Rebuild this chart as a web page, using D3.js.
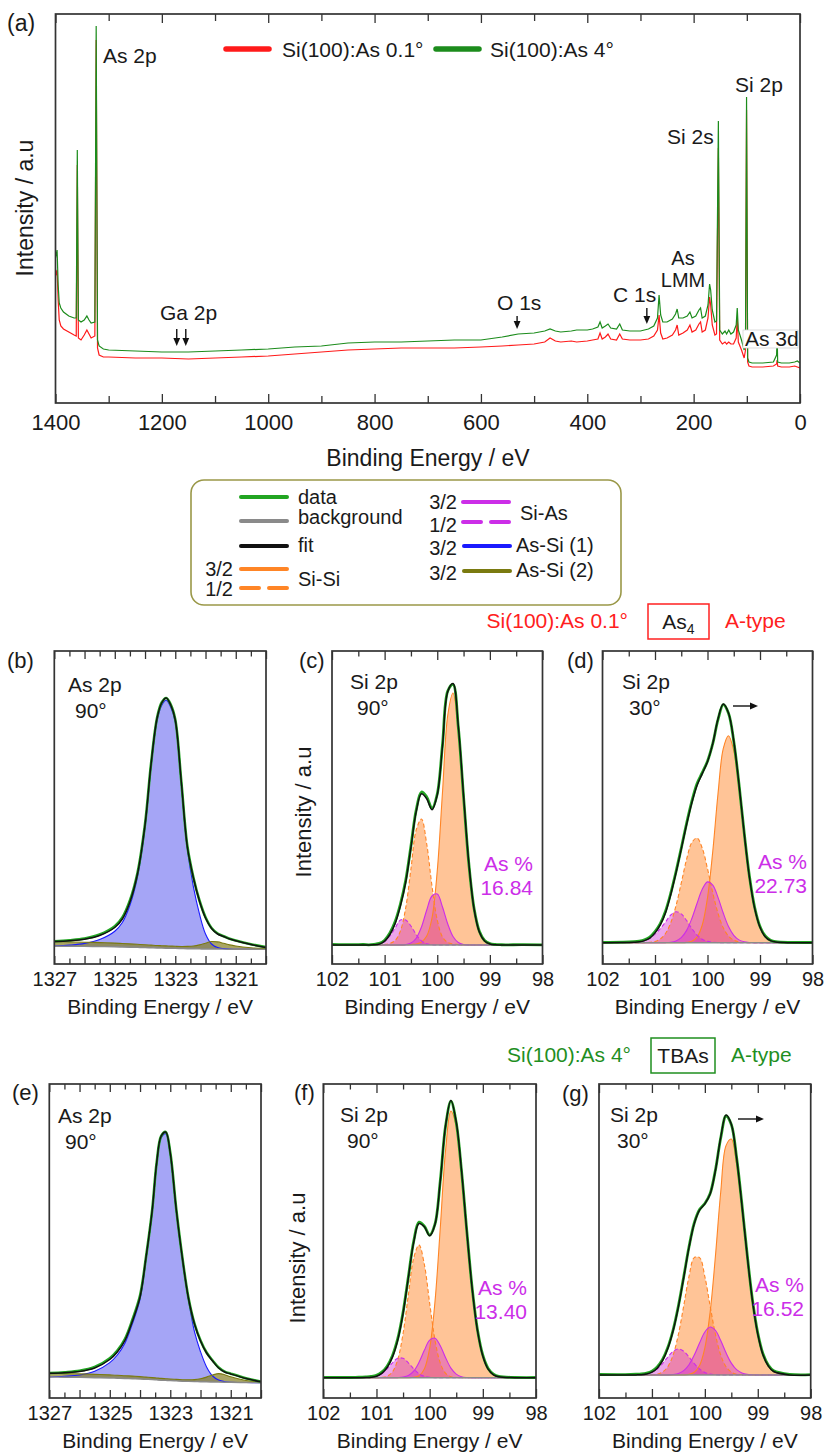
<!DOCTYPE html>
<html>
<head>
<meta charset="utf-8">
<script src="https://cdn.jsdelivr.net/npm/d3@7"></script>
<style>
  body { margin: 0; background: #fff; }
  text { font-family: "Liberation Sans", Arial, Helvetica, sans-serif; fill: #1a1a1a; }
</style>
</head>
<body>
<svg id="fig" width="825" height="1454" xmlns="http://www.w3.org/2000/svg"></svg>
<script>
// ---------- (a) survey spectra, intensity in a.u. ----------
const surveyEnergy = [1400,1397,1395,1393,1390,1385,1375,1365,1361,1359,1357,1352,1346,1341,1337,1333,1326,1323.5,1321,1318,
  1310,1300,1250,1200,1150,1100,1050,1000,950,900,850,800,750,700,650,600,560,530,500,480,
  470,460,450,430,420,400,390,380,376,372,366,361,356,345,339,334,320,300,285,275,
  268,265,262,258,250,240,234,231,228,220,212,207,203,196,190,187,184,178,173,170,
  168,165,160,157,153.5,151,146,141,138,134,130,125,120,118,116,110,105,102.5,100.5,98.5,
  96,90,70,50,44,43,42,35,20,10,5,0];
const surveyAs4 = [145,153,118,100,95,91,87,85,85,253,83,81,83,87,83,80,81,377,63,57,
  54,53,52,51,51,52,53,54,56,57,60,61,61,62,63,63,66,69,70,72,
  74,72,71,72,73,73,74,76,81,75,77,79,75,74,79,73,72,72,74,77,
  85,108,88,81,81,84,89,94,85,85,87,91,85,87,93,95,85,87,98,119,
  113,93,81,82,282,73,69,72,69,73,69,71,78,95,73,63,53,63,306,45,
  41,40,40,41,48,68,41,40,40,41,42,40];
const surveyAs01 = [127,133,103,83,77,74,71,68,67,238,65,63,68,73,69,65,67,363,55,48,
  46,46,45,45,44,45,46,47,49,51,53,54,55,55,55,56,57,58,59,61,
  65,62,61,62,61,62,63,64,70,64,66,69,64,63,69,64,63,63,64,67,
  73,88,70,64,65,68,73,78,68,70,73,78,71,73,79,81,71,73,85,106,
  98,78,68,69,255,63,59,61,59,61,59,59,65,85,61,53,45,53,293,41,
  37,36,36,37,39,43,37,36,36,37,36,35];
const surveyTicks = [1400,1200,1000,800,600,400,200,0];
const surveyMinor = [1300,1100,900,700,500,300,100];

// ---------- Si 2p fits ----------
const siEnergy = [102.0,101.6,101.4,101.3,101.2,101.1,101.0,100.9,100.8,100.7,100.6,100.5,100.4,100.3,100.2,100.1,
  100.0,99.9,99.8,99.7,99.6,99.5,99.4,99.3,99.2,99.1,99.0,98.9,98.8,98.7,98.4,98.0];
const siTicks = [102,101,100,99,98];
const siMinor = [101.5,100.5,99.5,98.5];

// (c) Si(100):As 0.1°, 90°
const cSiSi32 = [0,0,0,0,0,0,0,0,0,0,0.2,0.5,1,3,9,27,74,153,230,252,216,149,82,36,13,4,1,0.2,0,0,0,0];
const cSiSi12 = [0,0,0,0,0,0,0.5,1.5,4.5,14,37,76,115,126,101,59,25,8,2.5,1,0.5,0,0,0,0,0,0,0,0,0,0,0];
const cSiAs32 = [0,0,0,0,0,0,0,0,0,0.1,0.4,1.9,6.8,18,35,49,51,38,21,8.5,2.5,0.5,0.1,0,0,0,0,0,0,0,0,0];
const cSiAs12 = [0,0,0,0,0.2,0.9,3.4,9,17,25,25,19,10.5,4.2,1.2,0.3,0,0,0,0,0,0,0,0,0,0,0,0,0,0,0,0];
const cFit = [0,0,0,0,0.2,0.9,3.9,10.5,21.5,39.1,62.6,97.4,133.3,151.2,146.2,135.3,150,199,253.5,261.5,219,149.5,82.1,36,13,4,1,0.2,0,0,0,0];
const cData = [0.6,0.3,0.5,0.2,0.7,1.6,4.8,12,23.5,41,64.5,99,135,153,148,136.5,151,200.5,254,260.5,218,148.5,81.5,36.5,13.8,4.6,1.5,0.6,0.3,0.1,0.4,0.2];

// (d) Si(100):As 0.1°, 30°
const dSiSi32 = [0,0,0,0,0,0,0,0,0,0,0,0,0.3,1.4,5.6,17.7,44.9,91.2,148.9,194,207,192,155,108,65,34,15.5,6,2,0.6,0,0];
const dSiSi12 = [0,0,0,0,0.1,0.4,1.3,3.8,9.2,20,37,59.6,83,100,104.7,94.6,74,50,29.4,14.9,6.6,2.5,0.8,0.2,0,0,0,0,0,0,0,0];
const dSiAs32 = [0,0,0,0,0,0,0,0,0.1,0.5,1.8,5.1,12.1,23.9,39.2,53.4,60.8,57.5,45.3,29.7,16.2,7.4,2.8,0.9,0.2,0,0,0,0,0,0,0];
const dSiAs12 = [0,0.1,0.5,0.9,2,4.2,8.5,14,20.7,27.7,31,28.8,22.3,14.3,7.7,3.4,1.3,0.4,0.1,0,0,0,0,0,0,0,0,0,0,0,0,0];
const dFit = [0,0.1,0.5,0.9,2.1,4.6,9.8,17.8,30,48.2,69.8,93.5,117.7,139.6,157.2,169.1,181,199.1,223.7,238.6,229.8,201.9,158.6,109.1,65.2,34,15.5,6,2,0.6,0,0];
const dData = [0.4,0.5,1.0,1.6,2.9,5.5,11,19,31.5,49.5,71,94.5,119,141,159,170,181.5,199,223,238,229.5,201.5,158.5,109.5,66,35,16.2,6.7,2.5,1.0,0.3,0.2];

// (f) Si(100):As 4°, 90°
const fSiSi32 = [0,0,0,0,0,0,0,0,0,0,0,0,0,0.4,2,8.8,29.4,75.8,149.8,227.8,266.7,252,206,145.5,89,47,21.7,8.5,2.9,0.9,0,0];
const fSiSi12 = [0,0,0,0,0,0,0,0.3,1.4,5.7,18.1,44.2,82.9,119.6,132.8,113.4,74.6,37.8,14.6,4.4,1,0.2,0,0,0,0,0,0,0,0,0,0];
const fSiAs32 = [0,0,0,0,0,0,0,0,0,0,0.1,0.6,2.2,6.6,15.4,27.4,37.5,39.5,32,20,9.6,3.6,1,0.2,0,0,0,0,0,0,0,0];
const fSiAs12 = [0,0,0,0,0.1,0.4,1.4,4,8.8,14.9,19.4,19.4,14.9,8.8,4,1.4,0.4,0.1,0,0,0,0,0,0,0,0,0,0,0,0,0,0];
const fFit = [0,0,0,0,0.1,0.4,1.4,4.3,10.2,20.6,37.6,64.2,100,135.4,154.2,151,141.9,153.2,196.4,252.2,277.3,255.8,207,145.7,89,47,21.7,8.5,2.9,0.9,0,0];
const fData = [0.3,0.2,0.4,0.6,0.8,1.2,2.3,5.5,11.5,22,39,65.5,101,136.5,155.5,151.5,142.5,153.5,197,252,276.5,255,206.5,146,89.5,47.8,22.5,9.3,3.5,1.3,0.3,0.2];

// (g) Si(100):As 4°, 30°
const gSiSi32 = [0,0,0,0,0,0,0,0,0,0,0,0,0.1,0.6,2.7,9.5,27.1,63,119,183,229.4,236,211,168,119,74,41,20,9,3.5,0.1,0];
const gSiSi12 = [0,0,0,0,0,0,0.2,0.8,2.9,8.3,20,40.6,69,98.4,117.4,117.4,98.4,69,40.6,20,8.3,2.9,0.8,0.2,0,0,0,0,0,0,0,0];
const gSiAs32 = [0,0,0,0,0,0,0,0,0,0.1,0.5,1.6,4.4,10.3,19.9,32,43,48,44.6,34.5,22.2,11.9,5.3,2,0.6,0.2,0,0,0,0,0,0];
const gSiAs12 = [0,0,0,0.1,0.3,1,2.6,6,11.4,18,23.7,26,23.7,18,11.4,6,2.6,1,0.3,0.1,0,0,0,0,0,0,0,0,0,0,0,0];
const gFit = [0,0,0,0.1,0.3,1.0,2.8,6.8,14.3,26.4,44.2,68.2,97.2,127.3,151.4,164.9,171.1,181,204.5,237.6,259.9,250.8,217.1,170.2,119.6,74.2,41,20,9,3.5,0.1,0];
const gData = [0.5,0.4,0.6,0.8,1.1,1.9,3.8,8,15.5,27.5,45,69,98,128,152,165.5,171.5,181.5,205,237,259,250.5,217.5,171,120.5,75,42,21,9.8,4.2,0.6,0.3];

// ---------- As 2p fits ----------
const asEnergy = [1327,1326.5,1326,1325.5,1325,1324.75,1324.5,1324.25,1324,1323.8,1323.6,1323.45,1323.3,1323.15,1323.0,
  1322.8,1322.6,1322.4,1322.2,1322.0,1321.8,1321.6,1321.4,1321.2,1321.0,1320.5,1320.0];
const asTicks = [1327,1326,1325,1324,1323,1322,1321,1320];
const asLabels = [1327,1325,1323,1321];
const asMinor = [1326.5,1325.5,1324.5,1323.5,1322.5,1321.5,1320.5];

// (b) Si(100):As 0.1°
const bBackground = [17.8,17.7,17.6,17.4,17.2,17.0,16.8,16.6,16.4,16.2,16.0,15.9,15.8,15.7,15.6,15.4,15.3,15.2,15.1,15.0,15.0,14.9,14.9,14.8,14.8,14.7,14.6];
const bAsSi1 = [0.2,1.2,3.0,7.1,15.6,24.5,41.9,70.3,119.7,181.1,227.5,242.7,247.9,241.1,226.3,164.5,99.4,62,35,15,5,1.5,0.5,0.1,0,0,0];
const bAsSi2 = [4.5,4.4,4.2,4.0,3.7,3.5,3.3,3.1,2.9,2.7,2.5,2.4,2.3,2.2,2.1,2.1,2.3,2.8,4.0,5.8,7.5,7.2,5.8,4.3,3.2,1.6,0.8];
const bFit = [22.5,23.3,24.8,28.5,36.5,45,62,90,139,200,246,261,266,259,244,182,117,86,63,46,35.5,30,27.5,25,23.3,19.5,16.6];
const bData = [22.8,23.8,25.5,29.5,37.8,46.5,63.5,91,140,200.5,246.5,261.5,266,259.5,244.5,182.5,118,86.5,63.5,46.8,36,30.5,27.8,25.3,23.5,19.8,16.9];

// (e) Si(100):As 4°
const eBackground = [21.0,20.8,20.6,20.3,20.0,19.8,19.5,19.3,19.0,18.7,18.4,18.1,17.8,17.6,17.4,17.1,16.8,16.6,16.4,16.3,16.1,16.0,15.9,15.8,15.7,15.5,15.3];
const eAsSi1 = [0,0.9,2.4,6.4,15.4,23.2,35.2,55.1,79.6,120.1,166.6,215,242.4,246.7,226,169.4,121.7,81.8,50,30,15,6,2,0.5,0,0,0];
const eAsSi2 = [3.7,3.6,3.5,3.3,3.1,3.0,2.8,2.6,2.4,2.2,2.0,1.9,1.8,1.7,1.6,1.5,1.5,1.6,2.0,3.0,4.8,7.0,8.5,7.5,5.5,2.0,0.8];
const eFit = [24.7,25.3,26.5,30,38.5,46,57.5,77,101,141,187,235,262,266,245,188,140,100,74,57,45,37,30,26,24,19.5,16.2];
const eData = [25,25.8,27.2,31,39.8,47.5,59,78.5,102.5,141.5,187.5,235.5,262,266,245.5,188.5,140.5,100.5,74.5,57.5,45.5,37.5,30.5,26.3,24.3,19.8,16.5];

const asPercent = { c: '16.84', d: '22.73', f: '13.40', g: '16.52' };

// ---------- drawing ----------
const FONT = '"Liberation Sans", Arial, Helvetica, sans-serif';
const COL = {
  survGreen: '#1c8c1c', survRed: '#ff1a1a', data: '#22a522', fit: '#111', bg: '#8a8a8a',
  orange: '#ff8526', orangeFill: '#ff9442', magenta: '#cc2ee8', magentaFill: '#d22ad0',
  blue: '#1a1aff', blueFill: '#5b5bee', olive: '#7a7a10', oliveFill: '#857f22', frame: '#333'
};
const smooth = d3.curveCatmullRom.alpha(0.5);

const svg = d3.select('#fig');
svg.append('rect').attr('width', 825).attr('height', 1454).attr('fill', '#fff');
const defs = svg.append('defs');

function txt(g, x, y, s, size, opt = {}) {
  const t = g.append('text').attr('x', x).attr('y', y).attr('font-size', size).text(s);
  if (opt.anchor) t.attr('text-anchor', opt.anchor);
  if (opt.fill) t.style('fill', opt.fill);
  return t;
}

function addTicks(g, x, box, majors, minors, labels, o) {
  const fmt = d => labels.indexOf(d) >= 0 ? String(d) : '';
  const style = sel => {
    sel.select('.domain').remove();
    sel.attr('font-family', FONT).attr('font-size', o.fs).attr('color', COL.frame);
    sel.selectAll('text').style('fill', '#1a1a1a');
    sel.selectAll('line').attr('stroke-width', 1.3);
  };
  g.append('g').attr('transform', `translate(0,${box.y1})`)
    .call(d3.axisBottom(x).tickValues(majors).tickSize(-o.maj).tickPadding(o.pad).tickFormat(fmt)).call(style);
  g.append('g').attr('transform', `translate(0,${box.y1})`)
    .call(d3.axisBottom(x).tickValues(minors).tickSize(-o.min).tickFormat('')).call(style);
  g.append('g').attr('transform', `translate(0,${box.y0})`)
    .call(d3.axisTop(x).tickValues(majors).tickSize(-o.maj).tickFormat('')).call(style);
  g.append('g').attr('transform', `translate(0,${box.y0})`)
    .call(d3.axisTop(x).tickValues(minors).tickSize(-o.min).tickFormat('')).call(style);
  g.append('rect').attr('x', box.x0).attr('y', box.y0)
    .attr('width', box.x1 - box.x0).attr('height', box.y1 - box.y0)
    .attr('fill', 'none').attr('stroke', COL.frame).attr('stroke-width', 1.7);
}

function arrow(g, x1, y1, x2, y2) {
  const a = Math.atan2(y2 - y1, x2 - x1), L = 8, W = 3.4;
  g.append('line').attr('x1', x1).attr('y1', y1)
    .attr('x2', x2 - Math.cos(a) * 5).attr('y2', y2 - Math.sin(a) * 5)
    .attr('stroke', '#111').attr('stroke-width', 1.4);
  const bx = x2 - Math.cos(a) * L, by = y2 - Math.sin(a) * L;
  g.append('path').attr('fill', '#111').attr('d',
    `M${x2},${y2}L${bx - Math.sin(a) * W},${by + Math.cos(a) * W}L${bx + Math.sin(a) * W},${by - Math.cos(a) * W}Z`);
}

// ---- panel (a) ----
(function survey() {
  const box = { x0: 55.5, x1: 800, y0: 14, y1: 403 };
  const x = d3.scaleLinear().domain([1400, 0]).range([box.x0, box.x1]);
  const y = d3.scaleLinear().domain([0, 389]).range([box.y1, box.y0]);
  defs.append('clipPath').attr('id', 'clipA').append('rect')
    .attr('x', box.x0).attr('y', box.y0).attr('width', box.x1 - box.x0).attr('height', box.y1 - box.y0);
  const g = svg.append('g');
  const body = g.append('g').attr('clip-path', 'url(#clipA)');
  const line = d3.line().x((d, i) => x(surveyEnergy[i])).y(d => y(d));
  body.append('path').datum(surveyAs01).attr('d', line).attr('fill', 'none')
    .attr('stroke', COL.survRed).attr('stroke-width', 1.2);
  body.append('path').datum(surveyAs4).attr('d', line).attr('fill', 'none')
    .attr('stroke', COL.survGreen).attr('stroke-width', 1.2);

  // As 3d label sits in a white box over the traces
  body.append('rect').attr('x', 743).attr('y', 330).attr('width', 55).attr('height', 18)
    .attr('fill', '#fff').attr('stroke', '#d4d4d4').attr('stroke-width', 0.8);
  txt(g, 745, 346, 'As 3d', 21);

  addTicks(g, x, box, surveyTicks, surveyMinor, surveyTicks, { fs: 22, maj: 9, min: 7, pad: 11 });

  txt(g, 428, 466, 'Binding Energy / eV', 23, { anchor: 'middle' });
  txt(g, 0, 0, 'Intensity / a.u', 23, { anchor: 'middle' }).attr('transform', 'translate(33,208) rotate(-90)');
  txt(g, 7, 31, '(a)', 23);

  // legend
  g.append('line').attr('x1', 226).attr('x2', 269).attr('y1', 49).attr('y2', 49)
    .attr('stroke', COL.survRed).attr('stroke-width', 5.5).attr('stroke-linecap', 'round');
  txt(g, 282, 57, 'Si(100):As 0.1°', 21);
  g.append('line').attr('x1', 436).attr('x2', 479).attr('y1', 49).attr('y2', 49)
    .attr('stroke', COL.survGreen).attr('stroke-width', 5.5).attr('stroke-linecap', 'round');
  txt(g, 490, 57, 'Si(100):As 4°', 21);

  // peak labels
  txt(g, 103, 63, 'As 2p', 21);
  txt(g, 160, 320, 'Ga 2p', 21);
  arrow(g, x(1172), 329, x(1172), 346);
  arrow(g, x(1155), 329, x(1155), 346);
  txt(g, 497, 310, 'O 1s', 21);
  arrow(g, x(532), 316, x(532), 329);
  txt(g, 613, 302, 'C 1s', 21);
  arrow(g, x(288), 308, x(288), 324);
  txt(g, 683, 265, 'As', 20, { anchor: 'middle' });
  txt(g, 683, 287, 'LMM', 20, { anchor: 'middle' });
  txt(g, 667, 144, 'Si 2s', 21);
  txt(g, 735, 92, 'Si 2p', 21);
})();

// ---- legend box ----
(function legend() {
  const g = svg.append('g');
  g.append('rect').attr('x', 191).attr('y', 480).attr('width', 430).attr('height', 125).attr('rx', 13)
    .attr('fill', '#fff').attr('stroke', '#9a9848').attr('stroke-width', 1.6);
  const seg = (x1, yy, color, dash) => {
    const l = g.append('line').attr('x1', x1).attr('x2', x1 + 46).attr('y1', yy).attr('y2', yy)
      .attr('stroke', color).attr('stroke-width', 4).attr('stroke-linecap', 'round');
    if (dash) l.attr('stroke-dasharray', '18,10');
  };
  seg(241, 497, COL.data); txt(g, 298, 504, 'data', 20);
  seg(241, 521, COL.bg); txt(g, 298, 524, 'background', 20);
  seg(241, 546, COL.fit); txt(g, 298, 552, 'fit', 20);
  seg(241, 569, COL.orange); seg(241, 588, COL.orange, true);
  txt(g, 233, 576, '3/2', 20, { anchor: 'end' }); txt(g, 233, 596, '1/2', 20, { anchor: 'end' });
  txt(g, 298, 586, 'Si-Si', 20);
  seg(463, 502, COL.magenta); seg(463, 522, COL.magenta, true);
  txt(g, 457, 509, '3/2', 20, { anchor: 'end' }); txt(g, 457, 532, '1/2', 20, { anchor: 'end' });
  txt(g, 520, 520, 'Si-As', 20);
  seg(464, 546, COL.blue); txt(g, 457, 555, '3/2', 20, { anchor: 'end' });
  txt(g, 516, 552, 'As-Si (1)', 20);
  seg(464, 571, COL.olive); txt(g, 457, 580, '3/2', 20, { anchor: 'end' });
  txt(g, 516, 577, 'As-Si (2)', 20);
})();

// ---- sample headers ----
function header(y, sample, source, color, boxX, boxW) {
  const g = svg.append('g');
  txt(g, boxX - 20, y, sample, 21, { anchor: 'end', fill: color });
  g.append('rect').attr('x', boxX).attr('y', y - 24).attr('width', boxW).attr('height', 35)
    .attr('fill', '#fff').attr('stroke', color).attr('stroke-width', 1.5);
  const t = txt(g, boxX + boxW / 2, y + 1, '', 21, { anchor: 'middle' });
  source(t);
  txt(g, boxX + boxW + 16, y, 'A-type', 21, { fill: color });
}
header(628, 'Si(100):As 0.1°', t => {
  t.append('tspan').text('As');
  t.append('tspan').attr('font-size', 14).attr('dy', 5).text('4');
}, '#ff2020', 648, 61);
header(1062, 'Si(100):As 4°', t => t.text('TBAs'), '#1f8f1f', 651, 64);

// ---- sub panels ----
function subPanel(p) {
  const box = { x0: p.x0, x1: p.x1, y0: p.y0, y1: p.y1 };
  const x = d3.scaleLinear().domain(p.xdom).range([box.x0, box.x1]);
  const y = d3.scaleLinear().domain(p.ydom).range([box.y1, box.y0]);
  defs.append('clipPath').attr('id', 'clip' + p.tag).append('rect')
    .attr('x', box.x0).attr('y', box.y0).attr('width', box.x1 - box.x0).attr('height', box.y1 - box.y0);
  const g = svg.append('g');
  const body = g.append('g').attr('clip-path', `url(#clip${p.tag})`);
  p.draw(body, x, y);
  if (p.kind === 'si') addTicks(g, x, box, siTicks, siMinor, siTicks, { fs: 20, maj: 9, min: 5.5, pad: 8 });
  else addTicks(g, x, box, asTicks, asMinor, asLabels, { fs: 20, maj: 8, min: 5.5, pad: 8 });
  txt(g, (box.x0 + box.x1) / 2, p.titleY, 'Binding Energy / eV', 21, { anchor: 'middle' });
  txt(g, p.tagX, p.tagY, `(${p.tag})`, 22);
  txt(g, p.lx, p.ly, p.core, 21);
  txt(g, p.lx + 7, p.ly + 26, p.angle, 21);
  if (p.pct) {
    txt(g, p.px, p.py, 'As %', 21, { anchor: 'end', fill: COL.magenta });
    txt(g, p.px, p.py + 24, p.pct, 21, { anchor: 'end', fill: COL.magenta });
  }
  if (p.ylab) txt(g, 0, 0, 'Intensity / a.u', 22, { anchor: 'middle' })
    .attr('transform', `translate(${p.ylab[0]},${p.ylab[1]}) rotate(-90)`);
  if (p.arrow) arrow(g, p.arrow[0], p.arrow[1], p.arrow[2], p.arrow[1]);
}

function drawSi(s) {
  return (body, x, y) => {
    const pts = arr => arr.map((v, i) => [siEnergy[i], v]);
    const area = d3.area().x(d => x(d[0])).y0(y(0)).y1(d => y(d[1])).curve(smooth);
    const line = d3.line().x(d => x(d[0])).y(d => y(d[1])).curve(smooth);
    [[s.siSi32, COL.orangeFill, 0.55], [s.siSi12, COL.orangeFill, 0.55],
     [s.siAs12, COL.magentaFill, 0.42], [s.siAs32, COL.magentaFill, 0.42]].forEach(([a, c, o]) =>
      body.append('path').datum(pts(a)).attr('d', area).attr('fill', c).attr('fill-opacity', o));
    [[s.siSi32, COL.orange, null], [s.siSi12, COL.orange, '4,2.5'],
     [s.siAs32, COL.magenta, null], [s.siAs12, COL.magenta, '4,2.5']].forEach(([a, c, dash]) => {
      const l = body.append('path').datum(pts(a)).attr('d', line).attr('fill', 'none')
        .attr('stroke', c).attr('stroke-width', 1.1);
      if (dash) l.attr('stroke-dasharray', dash);
    });
    body.append('path').datum([[102, 0], [98, 0]]).attr('d', line).attr('fill', 'none')
      .attr('stroke', COL.bg).attr('stroke-width', 1.6);
    body.append('path').datum(pts(s.data)).attr('d', line).attr('fill', 'none')
      .attr('stroke', COL.data).attr('stroke-width', 2.8);
    body.append('path').datum(pts(s.fit)).attr('d', line).attr('fill', 'none')
      .attr('stroke', COL.fit).attr('stroke-width', 1.5);
  };
}

function drawAs(s) {
  return (body, x, y) => {
    const band = comp => comp.map((v, i) => [asEnergy[i], s.bg[i], s.bg[i] + v]);
    const area = d3.area().x(d => x(d[0])).y0(d => y(d[1])).y1(d => y(d[2])).curve(smooth);
    const top = d3.line().x(d => x(d[0])).y(d => y(d[2])).curve(smooth);
    const line = d3.line().x((d, i) => x(asEnergy[i])).y(d => y(d)).curve(smooth);
    body.append('path').datum(band(s.asSi1)).attr('d', area).attr('fill', COL.blueFill).attr('fill-opacity', 0.55);
    body.append('path').datum(band(s.asSi2)).attr('d', area).attr('fill', COL.oliveFill).attr('fill-opacity', 0.7);
    body.append('path').datum(band(s.asSi1)).attr('d', top).attr('fill', 'none')
      .attr('stroke', COL.blue).attr('stroke-width', 1.1);
    body.append('path').datum(band(s.asSi2)).attr('d', top).attr('fill', 'none')
      .attr('stroke', COL.olive).attr('stroke-width', 1.1);
    body.append('path').datum(s.bg).attr('d', line).attr('fill', 'none')
      .attr('stroke', COL.bg).attr('stroke-width', 1.4);
    body.append('path').datum(s.data).attr('d', line).attr('fill', 'none')
      .attr('stroke', COL.data).attr('stroke-width', 2.6);
    body.append('path').datum(s.fit).attr('d', line).attr('fill', 'none')
      .attr('stroke', COL.fit).attr('stroke-width', 1.5);
  };
}

subPanel({ tag: 'b', kind: 'as', x0: 54.3, x1: 266, y0: 651, y1: 964, xdom: [1327, 1320], ydom: [0, 313],
  titleY: 1014, tagX: 7, tagY: 668, lx: 68, ly: 692, core: 'As 2p', angle: '90°',
  draw: drawAs({ bg: bBackground, asSi1: bAsSi1, asSi2: bAsSi2, fit: bFit, data: bData }) });
subPanel({ tag: 'c', kind: 'si', x0: 332, x1: 542.5, y0: 651, y1: 964, xdom: [102, 98], ydom: [-19, 294],
  titleY: 1014, tagX: 299, tagY: 668, lx: 350, ly: 689, core: 'Si 2p', angle: '90°',
  pct: asPercent.c, px: 533, py: 871, ylab: [311, 812],
  draw: drawSi({ siSi32: cSiSi32, siSi12: cSiSi12, siAs32: cSiAs32, siAs12: cSiAs12, fit: cFit, data: cData }) });
subPanel({ tag: 'd', kind: 'si', x0: 602.5, x1: 812.5, y0: 651, y1: 964, xdom: [102, 98], ydom: [-21.3, 291.7],
  titleY: 1014, tagX: 567, tagY: 668, lx: 622, ly: 689, core: 'Si 2p', angle: '30°',
  pct: asPercent.d, px: 807, py: 869, arrow: [733, 706, 758],
  draw: drawSi({ siSi32: dSiSi32, siSi12: dSiSi12, siAs32: dSiAs32, siAs12: dSiAs12, fit: dFit, data: dData }) });
subPanel({ tag: 'e', kind: 'as', x0: 49.3, x1: 261, y0: 1084, y1: 1398, xdom: [1327, 1320], ydom: [0, 314],
  titleY: 1448, tagX: 12, tagY: 1100, lx: 58, ly: 1123, core: 'As 2p', angle: '90°',
  draw: drawAs({ bg: eBackground, asSi1: eAsSi1, asSi2: eAsSi2, fit: eFit, data: eData }) });
subPanel({ tag: 'f', kind: 'si', x0: 323.3, x1: 536, y0: 1084, y1: 1398, xdom: [102, 98], ydom: [-20.3, 293.7],
  titleY: 1448, tagX: 294, tagY: 1100, lx: 340, ly: 1122, core: 'Si 2p', angle: '90°',
  pct: asPercent.f, px: 527, py: 1295, ylab: [305, 1258],
  draw: drawSi({ siSi32: fSiSi32, siSi12: fSiSi12, siAs32: fSiAs32, siAs12: fSiAs12, fit: fFit, data: fData }) });
subPanel({ tag: 'g', kind: 'si', x0: 599, x1: 810.7, y0: 1084, y1: 1398, xdom: [102, 98], ydom: [-23, 291],
  titleY: 1448, tagX: 562, tagY: 1101, lx: 610, ly: 1122, core: 'Si 2p', angle: '30°',
  pct: asPercent.g, px: 804, py: 1292, arrow: [738, 1119, 764],
  draw: drawSi({ siSi32: gSiSi32, siSi12: gSiSi12, siAs32: gSiAs32, siAs12: gSiAs12, fit: gFit, data: gData }) });
</script>
</body>
</html>
